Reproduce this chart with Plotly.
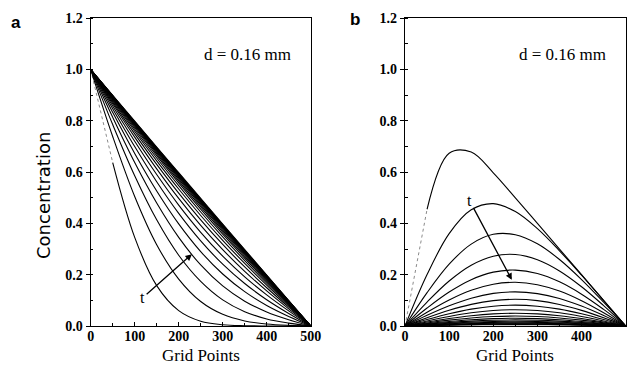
import plotly.graph_objects as go

# ---------------- data ----------------
grid_points = [0, 50, 100, 150, 200, 250, 300, 350, 400, 450, 500]

# panel a: concentration profiles at successive times
conc_a = [
    [1, 0.6375, 0.3458, 0.1573, 0.0598, 0.0184, 0.0047, 0.0010, 0.0002, 0, 0],
    [1, 0.7390, 0.5050, 0.3170, 0.1830, 0.0955, 0.0455, 0.0197, 0.0078, 0.0025, 0],
    [1, 0.7856, 0.5860, 0.4140, 0.2760, 0.1740, 0.1020, 0.0560, 0.0276, 0.0113, 0],
    [1, 0.8137, 0.6373, 0.4794, 0.3455, 0.2381, 0.1563, 0.0968, 0.0547, 0.0245, 0],
    [1, 0.8330, 0.6730, 0.5267, 0.3983, 0.2902, 0.2027, 0.1339, 0.0802, 0.0374, 0],
    [1, 0.8472, 0.6997, 0.5626, 0.4393, 0.3320, 0.2411, 0.1656, 0.1027, 0.0490, 0],
    [1, 0.8580, 0.7203, 0.5906, 0.4717, 0.3655, 0.2725, 0.1918, 0.1215, 0.0588, 0],
    [1, 0.8665, 0.7365, 0.6127, 0.4974, 0.3923, 0.2978, 0.2131, 0.1369, 0.0669, 0],
    [1, 0.8733, 0.7493, 0.6302, 0.5179, 0.4137, 0.3179, 0.2302, 0.1493, 0.0733, 0],
    [1, 0.8786, 0.7594, 0.6441, 0.5343, 0.4309, 0.3343, 0.2441, 0.1594, 0.0786, 0],
    [1, 0.8829, 0.7674, 0.6552, 0.5473, 0.4446, 0.3473, 0.2552, 0.1674, 0.0829, 0],
    [1, 0.8863, 0.7740, 0.6642, 0.5579, 0.4557, 0.3579, 0.2642, 0.1740, 0.0863, 0],
    [1, 0.8890, 0.7791, 0.6713, 0.5662, 0.4645, 0.3662, 0.2713, 0.1791, 0.0890, 0],
    [1, 0.8912, 0.7832, 0.6769, 0.5729, 0.4715, 0.3729, 0.2769, 0.1832, 0.0912, 0],
    [1, 0.8930, 0.7866, 0.6816, 0.5783, 0.4772, 0.3783, 0.2816, 0.1866, 0.0930, 0],
    [1, 0.8943, 0.7892, 0.6852, 0.5826, 0.4817, 0.3826, 0.2852, 0.1892, 0.0943, 0],
    [1, 0.8955, 0.7914, 0.6882, 0.5861, 0.4854, 0.3861, 0.2882, 0.1914, 0.0955, 0],
    [1, 0.8964, 0.7931, 0.6905, 0.5889, 0.4883, 0.3889, 0.2905, 0.1931, 0.0964, 0],
    [1, 0.8971, 0.7945, 0.6924, 0.5911, 0.4906, 0.3911, 0.2924, 0.1945, 0.0971, 0],
    [1, 0.8977, 0.7956, 0.6939, 0.5929, 0.4925, 0.3929, 0.2939, 0.1956, 0.0977, 0],
    [1, 0.8985, 0.7972, 0.6961, 0.5955, 0.4952, 0.3955, 0.2961, 0.1972, 0.0985, 0],
    [1, 0.8993, 0.7986, 0.6981, 0.5978, 0.4977, 0.3978, 0.2981, 0.1986, 0.0993, 0],
]

# panel b: concentration profiles at successive times
conc_b = [
    [0, 0.4553, 0.6737, 0.6783, 0.5976, 0.4999, 0.4000, 0.3000, 0.2000, 0.1000, 0],
    [0, 0.2004, 0.3601, 0.4531, 0.4773, 0.4463, 0.3795, 0.2931, 0.1981, 0.0994, 0],
    [0, 0.1299, 0.2411, 0.3194, 0.3576, 0.3560, 0.3205, 0.2594, 0.1811, 0.0928, 0],
    [0, 0.0933, 0.1755, 0.2371, 0.2723, 0.2791, 0.2585, 0.2147, 0.1531, 0.0795, 0],
    [0, 0.0700, 0.1324, 0.1806, 0.2100, 0.2181, 0.2048, 0.1722, 0.1240, 0.0648, 0],
    [0, 0.0537, 0.1018, 0.1395, 0.1631, 0.1704, 0.1611, 0.1363, 0.0986, 0.0517, 0],
    [0, 0.0416, 0.0789, 0.1084, 0.1271, 0.1332, 0.1263, 0.1072, 0.0777, 0.0408, 0],
    [0, 0.0323, 0.0614, 0.0844, 0.0991, 0.1041, 0.0989, 0.0840, 0.0610, 0.0321, 0],
    [0, 0.0251, 0.0478, 0.0658, 0.0773, 0.0813, 0.0773, 0.0658, 0.0478, 0.0251, 0],
    [0, 0.0196, 0.0373, 0.0514, 0.0604, 0.0635, 0.0604, 0.0514, 0.0373, 0.0196, 0],
    [0, 0.0154, 0.0292, 0.0402, 0.0473, 0.0497, 0.0473, 0.0402, 0.0292, 0.0154, 0],
    [0, 0.0120, 0.0228, 0.0314, 0.0369, 0.0388, 0.0369, 0.0314, 0.0228, 0.0120, 0],
    [0, 0.0094, 0.0178, 0.0245, 0.0288, 0.0303, 0.0288, 0.0245, 0.0178, 0.0094, 0],
    [0, 0.0073, 0.0139, 0.0192, 0.0225, 0.0237, 0.0225, 0.0192, 0.0139, 0.0073, 0],
    [0, 0.0057, 0.0109, 0.0150, 0.0176, 0.0185, 0.0176, 0.0150, 0.0109, 0.0057, 0],
    [0, 0.0045, 0.0085, 0.0117, 0.0138, 0.0145, 0.0138, 0.0117, 0.0085, 0.0045, 0],
    [0, 0.0035, 0.0066, 0.0091, 0.0107, 0.0113, 0.0107, 0.0091, 0.0066, 0.0035, 0],
    [0, 0.0027, 0.0052, 0.0071, 0.0084, 0.0088, 0.0084, 0.0071, 0.0052, 0.0027, 0],
    [0, 0.0021, 0.0041, 0.0056, 0.0066, 0.0069, 0.0066, 0.0056, 0.0041, 0.0021, 0],
    [0, 0.0017, 0.0032, 0.0044, 0.0051, 0.0054, 0.0051, 0.0044, 0.0032, 0.0017, 0],
]

x_ticks = [0, 100, 200, 300, 400, 500]
y_ticks = [0.0, 0.2, 0.4, 0.6, 0.8, 1.0, 1.2]
y_tick_text = ["0.0", "0.2", "0.4", "0.6", "0.8", "1.0", "1.2"]
x_title = "Grid Points"
y_title = "Concentration"
panel_note = "d = 0.16 mm"

# ---------------- figure ----------------
W, H = 635, 373
SERIF = "Liberation Serif"
fig = go.Figure()


def add_curves(curves, xa, ya):
    for i, ys in enumerate(curves):
        if i == 0:
            # faint (poorly printed) early part of the first curve
            fig.add_trace(go.Scatter(x=grid_points[:2], y=ys[:2], mode="lines",
                                     line=dict(color="#8a8a8a", width=1, dash="dot"),
                                     xaxis=xa, yaxis=ya, showlegend=False, hoverinfo="skip"))
            fig.add_trace(go.Scatter(x=grid_points[1:], y=ys[1:], mode="lines",
                                     line=dict(color="black", width=1.1, shape="spline"),
                                     xaxis=xa, yaxis=ya, showlegend=False, hoverinfo="skip"))
        else:
            fig.add_trace(go.Scatter(x=grid_points, y=ys, mode="lines",
                                     line=dict(color="black", width=1.1, shape="spline"),
                                     xaxis=xa, yaxis=ya, showlegend=False, hoverinfo="skip"))


add_curves(conc_a, "x", "y")
add_curves(conc_b, "x2", "y2")

y_dom = [1 - 326 / H, 1 - 18.3 / H]
xa_dom = [90.7 / W, 310.7 / W]
xb_dom = [405 / W, 625.7 / W]

common_x = dict(range=[0, 500], tickvals=x_ticks, ticks="inside", ticklen=4, tickwidth=1,
                tickcolor="black", showline=True, linecolor="black", linewidth=1.2,
                mirror=True, showgrid=False, zeroline=False, ticklabelstandoff=-3,
                minor=dict(dtick=50, ticks="inside", ticklen=2.5, tickcolor="black"),
                tickfont=dict(family=SERIF, size=14, color="black", weight="bold"))
common_y = dict(range=[0, 1.2], tickvals=y_ticks, ticktext=y_tick_text, ticks="outside",
                ticklen=4, tickwidth=1, tickcolor="black", showline=True,
                linecolor="black", linewidth=1.2, mirror=True, showgrid=False,
                zeroline=False,
                minor=dict(dtick=0.1, ticks="inside", ticklen=2.5, tickcolor="black"),
                tickfont=dict(family=SERIF, size=14, color="black", weight="bold"))

fig.update_layout(
    width=W, height=H,
    margin=dict(l=0, r=0, t=0, b=0, autoexpand=False),
    paper_bgcolor="white", plot_bgcolor="white",
    xaxis=dict(domain=xa_dom, anchor="y", **common_x),
    yaxis=dict(domain=y_dom, anchor="x", **common_y),
    xaxis2=dict(domain=xb_dom, anchor="y2", **common_x),
    yaxis2=dict(domain=y_dom, anchor="x2", **common_y),
)

ann = []
title_font = dict(family=SERIF, size=17, color="black")
for cx in (200.7, 515.3):
    ann.append(dict(x=cx / W, y=1 - 355 / H, xref="paper", yref="paper", text=x_title,
                    showarrow=False, font=title_font, xanchor="center", yanchor="middle"))
ann.append(dict(x=43 / W, y=1 - 196 / H, xref="paper", yref="paper", text=y_title,
                showarrow=False, font=dict(family="DejaVu Sans", size=18, color="black"),
                textangle=-90, xanchor="center", yanchor="middle"))
for cx in (247.5, 562.5):
    ann.append(dict(x=cx / W, y=1 - 55 / H, xref="paper", yref="paper", text=panel_note,
                    showarrow=False, font=dict(family=SERIF, size=17, color="black"),
                    xanchor="center", yanchor="middle"))
ann.append(dict(x=16 / W, y=1 - 22 / H, xref="paper", yref="paper", text="<b>a</b>",
                showarrow=False, font=dict(family="Liberation Sans", size=17, color="black"),
                xanchor="center", yanchor="middle"))
ann.append(dict(x=355 / W, y=1 - 19 / H, xref="paper", yref="paper", text="<b>b</b>",
                showarrow=False, font=dict(family="Liberation Sans", size=17, color="black"),
                xanchor="center", yanchor="middle"))
# time arrows
ann.append(dict(x=230, y=0.28, ax=118, ay=0.11, xref="x", yref="y", axref="x", ayref="y",
                text="t", showarrow=True, arrowhead=2, arrowsize=1, arrowwidth=1.3,
                arrowcolor="black", font=dict(family=SERIF, size=16, color="black")))
ann.append(dict(x=242, y=0.18, ax=146, ay=0.49, xref="x2", yref="y2", axref="x2", ayref="y2",
                text="t", showarrow=True, arrowhead=2, arrowsize=1, arrowwidth=1.3,
                arrowcolor="black", font=dict(family=SERIF, size=16, color="black")))
fig.update_layout(annotations=ann)

fig.write_html("out.html", config={"displayModeBar": False},
               post_script="document.body.style.margin='0';document.body.style.padding='0';")
